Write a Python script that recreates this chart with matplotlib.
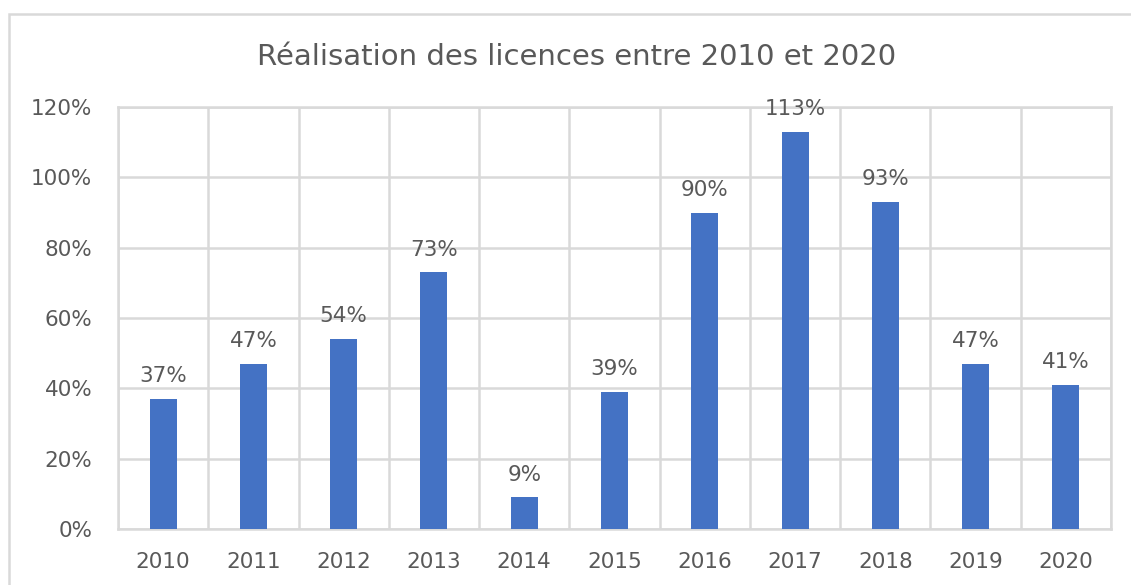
import matplotlib.pyplot as plt
import numpy as np
from matplotlib.patches import Rectangle
from matplotlib.ticker import PercentFormatter

years = ["2010", "2011", "2012", "2013", "2014", "2015", "2016", "2017", "2018", "2019", "2020"]
realisation = [0.37, 0.47, 0.54, 0.73, 0.09, 0.39, 0.90, 1.13, 0.93, 0.47, 0.41]
labels = ["37%", "47%", "54%", "73%", "9%", "39%", "90%", "113%", "93%", "47%", "41%"]

plt.rcParams['font.family'] = ['DejaVu Sans']
grid_col = "#d9d9d9"
text_col = "#595959"

fig = plt.figure(figsize=(11.31, 5.85), dpi=100)
ax = fig.add_axes([118/1131, 1 - 529/585, (1111-118)/1131, (529-107)/585])

# cadre du graphique
fig.patches.append(Rectangle((9/1131, -0.1), 1.2, 1 - 14/585 + 0.1, transform=fig.transFigure,
                             fill=False, edgecolor=grid_col, linewidth=1.8))

x = np.arange(len(years))
ax.bar(x, realisation, width=0.3, color="#4472C4", zorder=3)

for i in range(len(years)):
    ax.annotate(labels[i], (x[i], realisation[i]), xytext=(0, 12), textcoords="offset points",
                ha="center", va="baseline", fontsize=15.5, color=text_col, annotation_clip=False)

ax.set_xlim(-0.5, len(years) - 0.5)
ax.set_ylim(0, 1.2)
ax.set_yticks(np.arange(0, 1.21, 0.2))
ax.yaxis.set_major_formatter(PercentFormatter(1.0, decimals=0))
ax.set_xticks(x)
ax.set_xticklabels(years)
ax.set_xticks(np.arange(-0.5, len(years), 1), minor=True)

ax.grid(axis="y", color=grid_col, linewidth=1.8, zorder=0)
ax.grid(axis="x", which="minor", color=grid_col, linewidth=1.8, zorder=0)
for s in ax.spines.values():
    s.set_color(grid_col)
    s.set_linewidth(1.8)

ax.tick_params(axis="both", which="both", length=0, labelsize=15.5, labelcolor=text_col)
ax.tick_params(axis="y", pad=18.5)
ax.tick_params(axis="x", pad=16.5)

fig.text(577/1131, 1 - 65/585, "Réalisation des licences entre 2010 et 2020",
         ha="center", va="baseline", fontsize=21, color=text_col)

fig.savefig("out.png", dpi=100)
